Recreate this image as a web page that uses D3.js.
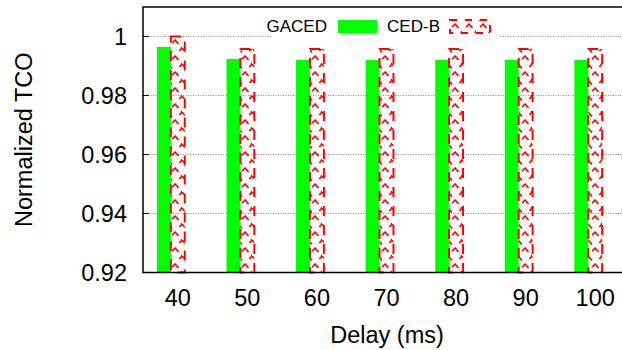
<!DOCTYPE html>
<html>
<head>
<meta charset="utf-8">
<script src="https://cdn.jsdelivr.net/npm/d3@7"></script>
<style>
  html, body { margin: 0; padding: 0; background: #fff; }
  svg { display: block; font-family: "Liberation Sans", Arial, Helvetica, sans-serif; }
</style>
</head>
<body>
<svg id="chart" width="622" height="350"></svg>
<script>
// Normalized TCO per network delay
const delays = ["40", "50", "60", "70", "80", "90", "100"];
const gaced  = [0.9965, 0.9924, 0.9921, 0.9921, 0.9921, 0.9921, 0.9921];
const cedB   = [1.0000, 0.9958, 0.9958, 0.9958, 0.9958, 0.9958, 0.9958];
const seriesNames = ["GACED", "CED-B"];
const yTicks = [0.92, 0.94, 0.96, 0.98, 1];

const svg = d3.select("#chart");
const plotLeft = 143, plotTop = 7, plotBottom = 272.5, plotRight = 630;

const x = d3.scaleBand().domain(delays).range([plotLeft, plotRight]).padding(0);
const step = x.step();
// three slots per cluster; the tick sits on the middle one
const slot = d3.scaleBand().domain([0, 1, 2]).range([-0.3 * step, 0.3 * step]);
const y = d3.scaleLinear().domain([0.92, 1.01]).range([plotBottom, plotTop]);
const cx = d => x(d) + step / 2;

// dashed cross-hatch for CED-B bars
const defs = svg.append("defs");
const pat = defs.append("pattern")
  .attr("id", "hatch").attr("patternUnits", "userSpaceOnUse")
  .attr("width", 14).attr("height", 16);
pat.append("path").attr("d", "M0,0 L14,16").attr("stroke", "#ff0000")
  .attr("stroke-width", 1.7).attr("stroke-dasharray", "6,4").attr("fill", "none");
pat.append("path").attr("d", "M14,0 L0,16").attr("stroke", "#ff0000")
  .attr("stroke-width", 1.7).attr("stroke-dasharray", "4,7").attr("fill", "none");

// grid lines
svg.append("g").selectAll("line").data(yTicks.filter(v => v > 0.92)).join("line")
  .attr("x1", plotLeft).attr("x2", 622)
  .attr("y1", d => y(d)).attr("y2", d => y(d))
  .attr("stroke", "#8a8a8a").attr("stroke-width", 1)
  .attr("stroke-dasharray", "1,1.5");

// opaque key box
svg.append("rect").attr("x", 273).attr("y", 12).attr("width", 226).attr("height", 29)
  .attr("fill", "#fff");

// bars
const bars = svg.append("g");
bars.selectAll("rect.g").data(delays).join("rect").attr("class", "g")
  .attr("x", d => cx(d) + slot(0))
  .attr("width", slot.bandwidth())
  .attr("y", (d, i) => y(gaced[i]))
  .attr("height", (d, i) => plotBottom - y(gaced[i]))
  .attr("fill", "#00ff00");

bars.selectAll("rect.r").data(delays).join("rect").attr("class", "r")
  .attr("x", d => cx(d) + slot(1))
  .attr("width", slot.bandwidth())
  .attr("y", (d, i) => y(cedB[i]))
  .attr("height", (d, i) => plotBottom - y(cedB[i]))
  .attr("fill", "url(#hatch)")
  .attr("stroke", "#ff0000").attr("stroke-width", 2)
  .attr("stroke-dasharray", "10,9");

// frame (left, top, bottom)
svg.append("path")
  .attr("d", `M622,${plotTop} L${plotLeft},${plotTop} L${plotLeft},${plotBottom} L622,${plotBottom}`)
  .attr("fill", "none").attr("stroke", "#000").attr("stroke-width", 1.5);

// left tick marks
svg.append("g").selectAll("line").data(yTicks).join("line")
  .attr("x1", plotLeft).attr("x2", plotLeft + 6)
  .attr("y1", d => y(d)).attr("y2", d => y(d))
  .attr("stroke", "#000").attr("stroke-width", 1);

// y tick labels
svg.append("g").selectAll("text").data(yTicks).join("text")
  .attr("x", 127).attr("y", d => y(d) + 8.5)
  .attr("text-anchor", "end").attr("font-size", 23.5).attr("fill", "#000")
  .text(d => d === 1 ? "1" : d3.format(".2f")(d));

// x tick labels
svg.append("g").selectAll("text").data(delays).join("text")
  .attr("x", d => cx(d)).attr("y", 306)
  .attr("text-anchor", "middle").attr("font-size", 23.5).attr("fill", "#000")
  .text(d => d);

// axis titles
svg.append("text").attr("x", 387).attr("y", 343)
  .attr("text-anchor", "middle").attr("font-size", 23.5).text("Delay (ms)");
svg.append("text")
  .attr("transform", `translate(32,${(plotTop + plotBottom) / 2}) rotate(-90)`)
  .attr("text-anchor", "middle").attr("font-size", 23.5).text("Normalized TCO");

// key
const key = svg.append("g").attr("font-size", 17);
key.append("text").attr("x", 327).attr("y", 32).attr("text-anchor", "end").text(seriesNames[0]);
key.append("rect").attr("x", 338).attr("y", 20).attr("width", 39).attr("height", 13).attr("fill", "#00ff00");
key.append("text").attr("x", 440).attr("y", 32).attr("text-anchor", "end").text(seriesNames[1]);
key.append("rect").attr("x", 450).attr("y", 20).attr("width", 40).attr("height", 13)
  .attr("fill", "url(#hatch)").attr("stroke", "#ff0000").attr("stroke-width", 2)
  .attr("stroke-dasharray", "7,8");
</script>
</body>
</html>
